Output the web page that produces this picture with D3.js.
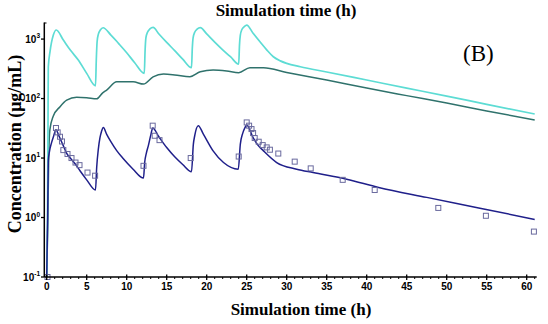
<!DOCTYPE html>
<html><head><meta charset="utf-8">
<script src="https://cdn.jsdelivr.net/npm/d3@7"></script>
<style>body{margin:0;background:#fff}svg{display:block}</style>
</head><body>
<svg id="c" width="548" height="324"></svg>
<script>
// ---- data ----
const cyanT = [0,0.1,0.16,0.2,0.41,0.83,1.2,2.08,3,3.95,5,6.1,6.2,6.3,6.45,6.7,7.05,8,9,10,11,12.2,12.3,12.4,12.6,12.9,13.3,14,15,16,17,18.1,18.2,18.3,18.5,18.8,19.2,20,21,22,23,24,24.1,24.2,24.4,24.7,25,25.8,26.66,27.5,28.33,29.2,30,31.7,35,40,45,50,55,61];
const cyanV = [0.1,1,30,340,610,1170,1420,962,640,444,265,164,450,900,1200,1420,1550,1180,840,590,400,265,650,1050,1300,1480,1570,1230,880,640,460,330,700,1050,1300,1470,1560,1220,890,660,500,380,800,1150,1450,1620,1720,1250,900,660,505,430,390,343,280,205,150,110,80,55];

const tealT = [0,0.15,0.25,0.4,0.8,1.67,2.5,3.75,5,6.25,7,7.5,8.75,10.8,12.1,13.3,14.6,16,17.9,19.2,20.8,22.5,24,25.4,27.1,30,35,40,45,50,55,61];
const tealV = [0.1,1,10,30,50,73,94,105,103,99,125,139,191,191,175,232,258,250,232,282,301,290,272,330,330,275,205,150,112,84,62,43.5];

const navyT = [0,0.12,0.2,0.35,0.6,0.85,1.16,1.5,2,2.5,3,3.5,4.16,5,6.1,6.25,6.45,6.66,6.85,7.08,7.5,8,8.75,9.5,10.8,12.1,12.25,12.45,12.7,13,13.25,14,15,16,17,18.1,18.33,18.5,18.95,19.6,20.8,22.1,23.95,24.2,24.5,24.8,25,25.8,26.4,27.1,28.75,31.25,33.3,37.5,41.5,47.5,54,61];
const navyV = [0.1,1,9,13,18,23,30,24,17,12,9.8,8.2,6.1,4.3,2.9,7,14,22,28,32.7,25,19,13.3,10,6.5,4.6,8.5,12,16,24,32,23,15,10.5,7.8,5.9,17,23.7,35,25,13.2,8.4,6.5,17,26,32.7,36,22,16.5,13.2,8.4,6.5,5.7,4.4,3.2,2.18,1.45,0.93];

const obsT = [0.1,1.16,1.37,1.66,1.91,2.08,2.6,3.1,3.6,4.1,5.1,6.05,12.1,13.25,13.5,14.1,18,24,25,25.3,25.6,25.8,26,26.5,27,27.5,27.9,28.95,31,33,37,41,48.95,54.9,60.9];
const obsV = [0.1,32,27,22.8,19,13.6,11.7,10,8.4,7.6,5.7,5.05,7.4,35,23.7,20,10,10.6,39.7,35,30.7,26.3,21.7,18.8,16.5,15.1,13.8,11.9,8.7,6.7,4.3,2.9,1.45,1.07,0.58];

const xTicks = [0,5,10,15,20,25,30,35,40,45,50,55,60];
const yTicks = [0.1,1,10,100,1000];
const yExp = ["-1","0","1","2","3"];

// ---- drawing ----
const svg = d3.select("#c");
const x = d3.scaleLinear().domain([-0.3,61.25]).range([44.3,536.7]);
const y = d3.scaleLog().domain([0.1,1900]).range([277,22.5]);

const line = d3.line().x(d=>x(d[0])).y(d=>y(d[1])).curve(d3.curveMonotoneX);
const zip = (a,b)=>a.map((t,i)=>[t,b[i]]);

svg.append("path").attr("d",line(zip(tealT,tealV))).attr("fill","none").attr("stroke","#2f726c").attr("stroke-width",1.5);
svg.append("path").attr("d",line(zip(cyanT,cyanV))).attr("fill","none").attr("stroke","#5ddcd4").attr("stroke-width",1.7);
svg.append("path").attr("d",line(zip(navyT,navyV))).attr("fill","none").attr("stroke","#1f1f8a").attr("stroke-width",1.5);

svg.append("g").selectAll("rect").data(zip(obsT,obsV)).join("rect")
  .attr("x",d=>x(d[0])-2.5).attr("y",d=>y(d[1])-2.5).attr("width",5).attr("height",5)
  .attr("fill","none").attr("stroke","#6a6a9e").attr("stroke-width",1);

// x axis
const gx = svg.append("g").attr("transform","translate(0,277)");
gx.append("line").attr("x1",44.3).attr("x2",536.7).attr("stroke","#000").attr("stroke-width",1.5);
gx.selectAll(".minor").data(d3.range(0,62,1).filter(v=>v%5!==0)).join("line")
  .attr("x1",d=>x(d)).attr("x2",d=>x(d)).attr("y1",0).attr("y2",2).attr("stroke","#000").attr("stroke-width",1);
gx.selectAll(".major").data(xTicks).join("line")
  .attr("x1",d=>x(d)).attr("x2",d=>x(d)).attr("y1",-2.5).attr("y2",3).attr("stroke","#000").attr("stroke-width",1.3);
gx.selectAll("text").data(xTicks).join("text")
  .attr("x",d=>x(d)).attr("y",13).attr("text-anchor","middle")
  .style("font-family","'Liberation Sans',Arial,sans-serif").style("font-weight","bold").style("font-size","10px")
  .text(d=>d);

// y axis
const gy = svg.append("g");
gy.append("line").attr("x1",44.3).attr("x2",44.3).attr("y1",22.5).attr("y2",277).attr("stroke","#000").attr("stroke-width",1.5);
gy.append("line").attr("x1",44.3).attr("x2",46.5).attr("y1",23).attr("y2",23).attr("stroke","#000").attr("stroke-width",1);
gy.selectAll(".tk").data(yTicks).join("line")
  .attr("x1",41).attr("x2",44.3).attr("y1",d=>y(d)).attr("y2",d=>y(d)).attr("stroke","#000").attr("stroke-width",1.3);
const yl = gy.selectAll(".lbl").data(yTicks).join("text")
  .attr("x",40).attr("y",d=>y(d)+3.5).attr("text-anchor","end")
  .style("font-family","'Liberation Sans',Arial,sans-serif").style("font-weight","bold").style("font-size","10px");
yl.append("tspan").text("10");
yl.append("tspan").attr("dy",-4.5).style("font-size","6.5px").text((d,i)=>yExp[i]);

// titles
svg.append("text").attr("x",286).attr("y",16).attr("text-anchor","middle")
  .style("font-family","'Liberation Serif','Times New Roman',serif").style("font-weight","bold").style("font-size","17px")
  .text("Simulation time (h)");
svg.append("text").attr("x",301).attr("y",315).attr("text-anchor","middle")
  .style("font-family","'Liberation Serif','Times New Roman',serif").style("font-weight","bold").style("font-size","17px")
  .text("Simulation time (h)");
svg.append("text").attr("transform","translate(21,144) rotate(-90)").attr("text-anchor","middle")
  .style("font-family","'Liberation Serif','Times New Roman',serif").style("font-weight","bold").style("font-size","18px")
  .text("Concentration (μg/mL)");
svg.append("text").attr("x",463).attr("y",61).
  style("font-family","'Liberation Serif','Times New Roman',serif").style("font-size","23px")
  .text("(B)");
</script>
</body></html>
